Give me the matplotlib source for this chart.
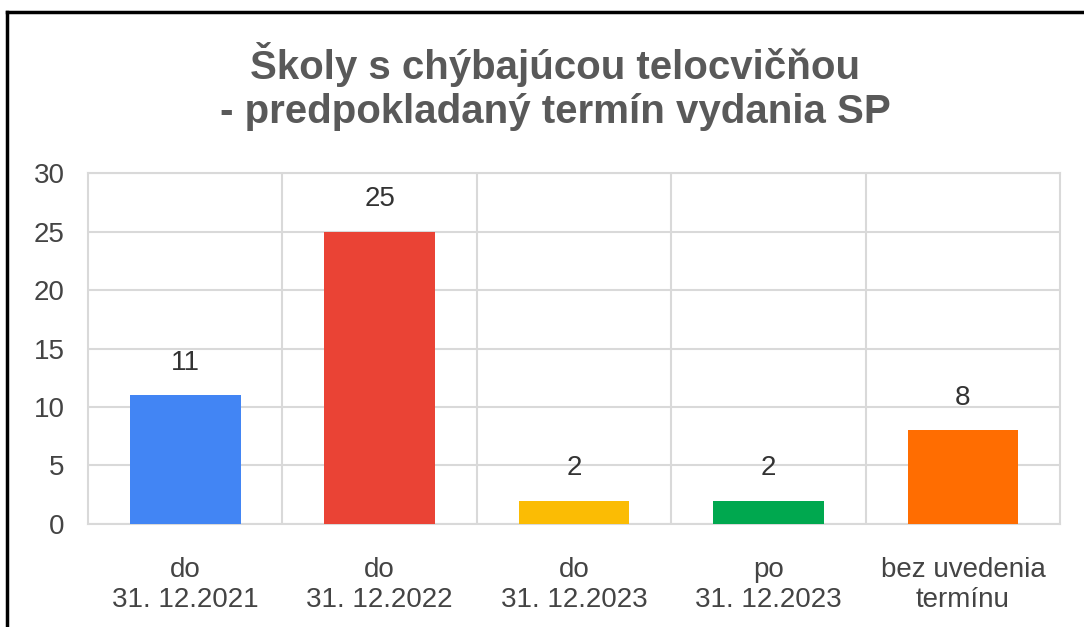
import matplotlib.pyplot as plt
from matplotlib.lines import Line2D

# údaje z grafu
kategorie = ['do\n31. 12.2021', 'do\n31. 12.2022', 'do\n31. 12.2023',
             'po\n31. 12.2023', 'bez uvedenia\ntermínu']
pocty = [11, 25, 2, 2, 8]
farby = ['#4285F4', '#EA4335', '#FBBC04', '#00A84F', '#FF6D01']
y_ticks = [0, 5, 10, 15, 20, 25, 30]

plt.rcParams['font.family'] = ['Liberation Sans', 'DejaVu Sans']

fig = plt.figure(figsize=(10.84, 6.27), dpi=100)
ax = fig.add_axes([0.0812, 0.1643, 0.8968, 0.5597])

x = range(len(pocty))
bars = ax.bar(x, pocty, width=0.57, color=farby, zorder=3)
ax.bar_label(bars, labels=[str(v) for v in pocty], padding=14,
             fontsize=20, color='#333333')

ax.set_xlim(-0.5, len(pocty) - 0.5)
ax.set_ylim(0, 30)
ax.set_yticks(y_ticks)
ax.set_xticks(list(x))
ax.set_xticklabels(kategorie, fontsize=20, color='#444444', linespacing=1.2)
ax.tick_params(axis='y', labelsize=20, labelcolor='#444444', length=0, pad=17)
ax.tick_params(axis='x', length=0, pad=24)

# mriežka vrátane hraníc kategórií
ax.set_xticks([i + 0.5 for i in range(len(pocty) - 1)], minor=True)
ax.tick_params(axis='x', which='minor', length=0)
ax.grid(axis='y', color='#d9d9d9', linewidth=1.5, zorder=0)
ax.grid(axis='x', which='minor', color='#d9d9d9', linewidth=1.5, zorder=0)
for s in ax.spines.values():
    s.set_color('#d9d9d9')
    s.set_linewidth(1.5)

fig.text(0.512, 0.862, 'Školy s chýbajúcou telocvičňou\n- predpokladaný termín vydania SP',
         ha='center', va='center', fontsize=29, fontweight='bold',
         color='#595959', linespacing=1.2)

# rámik okolo obrázka (ľavá a horná hrana)
fig.add_artist(Line2D([0.0065, 0.0065], [0, 0.981], color='black', linewidth=2.5))
fig.add_artist(Line2D([0.0065, 1], [0.981, 0.981], color='black', linewidth=2.5))

fig.savefig('out.png', dpi=100)
